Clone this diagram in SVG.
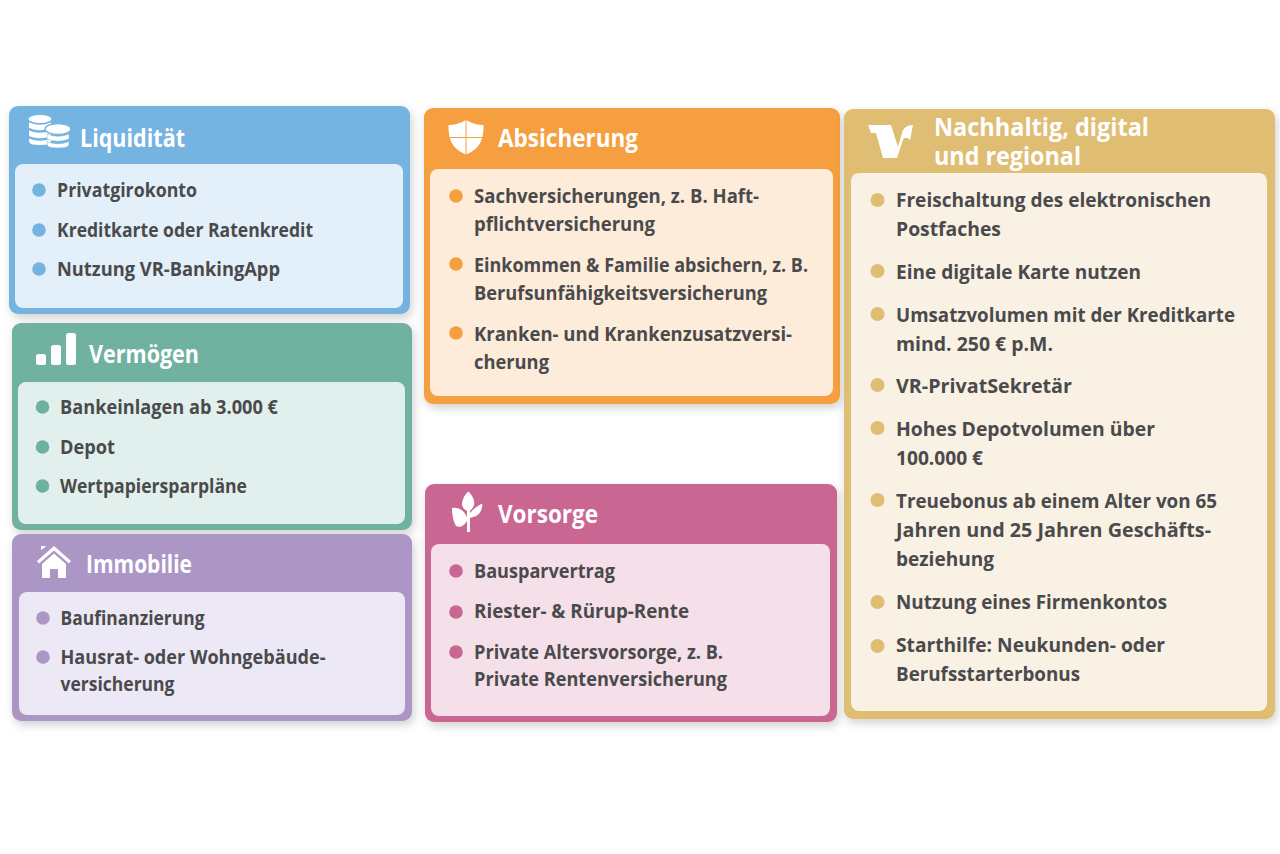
<svg xmlns="http://www.w3.org/2000/svg" width="1280" height="854" viewBox="0 0 1280 854">
<defs>
<filter id="sh" x="-10%" y="-10%" width="120%" height="120%"><feDropShadow dx="2" dy="4" stdDeviation="5" flood-color="#000" flood-opacity="0.18"/></filter>
</defs>
<style>
text{font-family:"Open Sans","Noto Sans",sans-serif}
.h{font-size:25px;font-weight:700;fill:#fff}
.t{font-size:19.5px;font-weight:700;fill:#4a4a4c}
.ic{fill:#fff}
.card{filter:url(#sh)}
</style>
<rect width="1280" height="854" fill="#fff"/>

<g id="node-liquiditaet">
<rect class="card" x="9" y="106" width="401" height="208" rx="9" fill="#74b3e0"/>
<rect x="15" y="164" width="388" height="144" rx="8" fill="#e3f0f9"/>
<g class="ic">
<ellipse cx="40" cy="119" rx="11.500" ry="4"/>
<path d="M29 122.500q11 4.500 22 0v5.500q-11 4.500-22 0zM29 130.500q11 4.500 22 0v5.500q-11 4.500-22 0zM29 138.500q11 4.500 22 0v3q0 3.500-11 3.500q-11 0-11-3.500z"/>
<ellipse cx="58" cy="129" rx="13" ry="5.500" stroke="#74b3e0" stroke-width="1.500"/>
<path d="M47 134q11 4.500 22 0v5q-11 4.500-22 0zM47 141.500q11 4.500 22 0v3q0 3.500-11 3.500q-11 0-11-3.500z" stroke="#74b3e0" stroke-width="0.500"/>
</g>
<text class="h" x="80" y="146.500" textLength="105" lengthAdjust="spacingAndGlyphs">Liquidität</text>
<g fill="#74b3e0"><circle cx="39" cy="190" r="6.800"/><circle cx="39" cy="230" r="6.800"/><circle cx="39" cy="269" r="6.800"/></g>
<text class="t" x="57" y="196.500" textLength="140" lengthAdjust="spacingAndGlyphs">Privatgirokonto</text>
<text class="t" x="57" y="236.500" textLength="256" lengthAdjust="spacingAndGlyphs">Kreditkarte oder Ratenkredit</text>
<text class="t" x="57" y="276" textLength="223" lengthAdjust="spacingAndGlyphs">Nutzung VR-BankingApp</text>
</g>

<g id="node-vermoegen">
<rect class="card" x="12" y="323" width="400" height="207" rx="9" fill="#6fb1a0"/>
<rect x="18" y="382" width="387" height="142" rx="8" fill="#e1f0ec"/>
<g class="ic"><rect x="36" y="354" width="10" height="11" rx="2.500"/><rect x="51" y="345" width="10" height="20" rx="2.500"/><rect x="66" y="333" width="10" height="32" rx="2.500"/></g>
<text class="h" x="89" y="362.500" textLength="110" lengthAdjust="spacingAndGlyphs">Vermögen</text>
<g fill="#6fb1a0"><circle cx="42.500" cy="407" r="6.800"/><circle cx="42.500" cy="447" r="6.800"/><circle cx="42.500" cy="486" r="6.800"/></g>
<text class="t" x="60" y="414" textLength="218" lengthAdjust="spacingAndGlyphs">Bankeinlagen ab 3.000 €</text>
<text class="t" x="60" y="453.500" textLength="55" lengthAdjust="spacingAndGlyphs">Depot</text>
<text class="t" x="60" y="493" textLength="187" lengthAdjust="spacingAndGlyphs">Wertpapiersparpläne</text>
</g>

<g id="node-immobilie">
<rect class="card" x="12" y="534" width="400" height="187" rx="9" fill="#ab96c5"/>
<rect x="19" y="592" width="386" height="123" rx="8" fill="#ede8f5"/>
<g class="ic"><path d="M37 561L54 546L71 561L69 563.500L54 550.500L39 563.500zM41 550V546H45.500V547zM42 564L54 553.500L66 564V578H58V569H50V578H42z"/></g>
<text class="h" x="86" y="572.500" textLength="106" lengthAdjust="spacingAndGlyphs">Immobilie</text>
<g fill="#ab96c5"><circle cx="43" cy="618" r="6.800"/><circle cx="43" cy="657" r="6.800"/></g>
<text class="t" x="60.500" y="624.500" textLength="144" lengthAdjust="spacingAndGlyphs">Baufinanzierung</text>
<text class="t" x="60.500" y="663.500" textLength="265" lengthAdjust="spacingAndGlyphs">Hausrat- oder Wohngebäude-</text>
<text class="t" x="60.500" y="690.500" textLength="114" lengthAdjust="spacingAndGlyphs">versicherung</text>
</g>

<g id="node-absicherung">
<rect class="card" x="424" y="108" width="416" height="296" rx="9" fill="#f59f40"/>
<rect x="430" y="169" width="403" height="227" rx="8" fill="#fdecd9"/>
<path class="ic" d="M466 120C459 124 454 125 448.500 125C448 139 452 149 466 154.500C480 149 484 139 483.500 125C478 125 473 124 466 120Z"/>
<path d="M466 120V154.500M449 137.500H483" stroke="#f59f40" stroke-width="1" fill="none"/>
<text class="h" x="498" y="146.500" textLength="140" lengthAdjust="spacingAndGlyphs">Absicherung</text>
<g fill="#f59f40"><circle cx="456" cy="196" r="6.800"/><circle cx="456" cy="264" r="6.800"/><circle cx="456" cy="333" r="6.800"/></g>
<text class="t" x="474" y="202.500" textLength="285" lengthAdjust="spacingAndGlyphs">Sachversicherungen, z. B. Haft-</text>
<text class="t" x="474" y="230.500" textLength="181" lengthAdjust="spacingAndGlyphs">pflichtversicherung</text>
<text class="t" x="474" y="271.500" textLength="334" lengthAdjust="spacingAndGlyphs">Einkommen &amp; Familie absichern, z. B.</text>
<text class="t" x="474" y="299.500" textLength="293" lengthAdjust="spacingAndGlyphs">Berufsunfähigkeitsversicherung</text>
<text class="t" x="474" y="340.500" textLength="318" lengthAdjust="spacingAndGlyphs">Kranken- und Krankenzusatzversi-</text>
<text class="t" x="474" y="368.500" textLength="75" lengthAdjust="spacingAndGlyphs">cherung</text>
</g>

<g id="node-vorsorge">
<rect class="card" x="425" y="484" width="412" height="238" rx="9" fill="#c96691"/>
<rect x="431" y="544" width="399" height="172" rx="8" fill="#f5e0ea"/>
<g class="ic"><path d="M468.500 491.500C473 496 475 501 474 505C473 508 471 510 470 511V513C474 508 479 505 482.500 503.500C482.500 510 479 516 473 517L470 518V532H467V521C464 526 460 528 456 526C453 521 452 514 452 508C458 507 464 510 467 517V511C463 509 462 506 462 503C463 498 465 494 468.500 491.500Z"/></g>
<text class="h" x="498" y="522.500" textLength="100" lengthAdjust="spacingAndGlyphs">Vorsorge</text>
<g fill="#c96691"><circle cx="456" cy="571" r="6.800"/><circle cx="456" cy="612" r="6.800"/><circle cx="456" cy="652" r="6.800"/></g>
<text class="t" x="474" y="577.500" textLength="141" lengthAdjust="spacingAndGlyphs">Bausparvertrag</text>
<text class="t" x="474" y="618" textLength="215" lengthAdjust="spacingAndGlyphs">Riester- &amp; Rürup-Rente</text>
<text class="t" x="474" y="658.500" textLength="249" lengthAdjust="spacingAndGlyphs">Private Altersvorsorge, z. B.</text>
<text class="t" x="474" y="686" textLength="253" lengthAdjust="spacingAndGlyphs">Private Rentenversicherung</text>
</g>

<g id="node-nachhaltig">
<rect class="card" x="844" y="109" width="431" height="610" rx="9" fill="#dfbd72"/>
<rect x="851" y="173" width="416" height="538" rx="8" fill="#f9f1e3"/>
<path class="ic" d="M868 125H891L898 147L902 133C903 128 907 125 913 125L910 140C907 137 904 137 903 140L897 158H883L876 133H871Z"/>
<text class="h" x="934" y="136" textLength="215" lengthAdjust="spacingAndGlyphs">Nachhaltig, digital</text>
<text class="h" x="934" y="165" textLength="147" lengthAdjust="spacingAndGlyphs">und regional</text>
<g fill="#dfbd72"><circle cx="877.500" cy="200" r="7"/><circle cx="877.500" cy="271" r="7"/><circle cx="877.500" cy="314" r="7"/><circle cx="877.500" cy="385" r="7"/><circle cx="877.500" cy="428" r="7"/><circle cx="877.500" cy="500" r="7"/><circle cx="877.500" cy="602" r="7"/><circle cx="877.500" cy="646" r="7"/></g>
<text class="t" x="896" y="207" textLength="315" lengthAdjust="spacingAndGlyphs">Freischaltung des elektronischen</text>
<text class="t" x="896" y="236" textLength="105" lengthAdjust="spacingAndGlyphs">Postfaches</text>
<text class="t" x="896" y="279" textLength="245" lengthAdjust="spacingAndGlyphs">Eine digitale Karte nutzen</text>
<text class="t" x="896" y="322" textLength="339" lengthAdjust="spacingAndGlyphs">Umsatzvolumen mit der Kreditkarte</text>
<text class="t" x="896" y="350.500" textLength="157" lengthAdjust="spacingAndGlyphs">mind. 250 € p.M.</text>
<text class="t" x="896" y="393" textLength="176" lengthAdjust="spacingAndGlyphs">VR-PrivatSekretär</text>
<text class="t" x="896" y="436" textLength="259" lengthAdjust="spacingAndGlyphs">Hohes Depotvolumen über</text>
<text class="t" x="896" y="465" textLength="87" lengthAdjust="spacingAndGlyphs">100.000 €</text>
<text class="t" x="896" y="508" textLength="321" lengthAdjust="spacingAndGlyphs">Treuebonus ab einem Alter von 65</text>
<text class="t" x="896" y="537" textLength="315" lengthAdjust="spacingAndGlyphs">Jahren und 25 Jahren Geschäfts-</text>
<text class="t" x="896" y="566" textLength="98" lengthAdjust="spacingAndGlyphs">beziehung</text>
<text class="t" x="896" y="609" textLength="271" lengthAdjust="spacingAndGlyphs">Nutzung eines Firmenkontos</text>
<text class="t" x="896" y="652" textLength="269" lengthAdjust="spacingAndGlyphs">Starthilfe: Neukunden- oder</text>
<text class="t" x="896" y="681" textLength="184" lengthAdjust="spacingAndGlyphs">Berufsstarterbonus</text>
</g>
</svg>
